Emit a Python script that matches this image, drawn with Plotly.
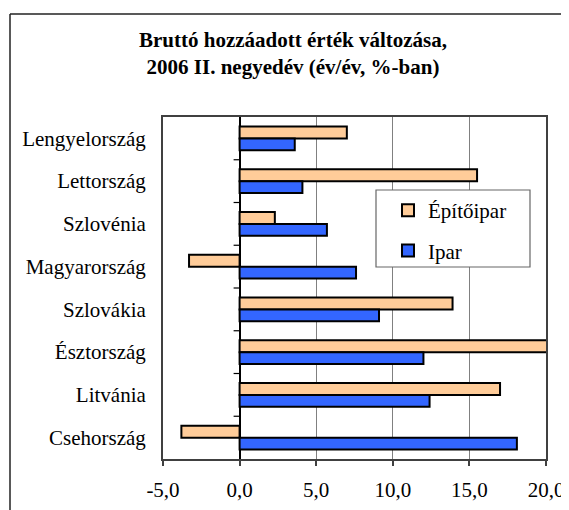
import plotly.graph_objects as go

countries = ["Lengyelország", "Lettország", "Szlovénia", "Magyarország",
             "Szlovákia", "Észtország", "Litvánia", "Csehország"]
epitoipar = [7.0, 15.5, 2.3, -3.3, 13.9, 21.0, 17.0, -3.8]
ipar = [3.6, 4.1, 5.7, 7.6, 9.1, 12.0, 12.4, 18.1]
series_names = ["Építőipar", "Ipar"]
x_ticks = [-5, 0, 5, 10, 15, 20]
x_tick_labels = ["-5,0", "0,0", "5,0", "10,0", "15,0", "20,0"]

FONT = "Liberation Serif"
OFF = 8  # page body margin offset
W, H = 569 - OFF, 510 - OFF
ML, MR, MT, MB = 163 - OFF, 23, 117 - OFF, 51
PW, PH = W - ML - MR, H - MT - MB

def px_x(p):  # reference page px -> paper
    return (p - OFF - ML) / PW

def px_y(p):
    return (H - MB - (p - OFF)) / PH

fig = go.Figure()
fig.add_trace(go.Bar(
    y=countries, x=epitoipar, orientation="h", name=series_names[0],
    marker=dict(color="#FFCC99", line=dict(color="black", width=2)),
    legendgroup="a",
))
fig.add_trace(go.Bar(
    y=countries, x=ipar, orientation="h", name=series_names[1],
    marker=dict(color="#3366FF", line=dict(color="black", width=2)),
    legendgroup="b",
))

shapes = []
for i in range(len(countries) - 1):
    shapes.append(dict(type="line", xref="x", yref="y", xsizemode="pixel",
                       xanchor=0, x0=-6, x1=0, y0=i + 0.5, y1=i + 0.5,
                       line=dict(color="black", width=1.2)))
shapes.append(dict(type="rect", xref="paper", yref="paper",
                   x0=px_x(376), x1=px_x(530), y0=px_y(267), y1=px_y(190),
                   line=dict(color="#666666", width=1.2), fillcolor="white",
                   layer="above"))
shapes.append(dict(type="line", xref="paper", yref="paper",
                   x0=px_x(10), x1=px_x(580), y0=px_y(14), y1=px_y(14),
                   line=dict(color="#222222", width=1.5)))
shapes.append(dict(type="line", xref="paper", yref="paper",
                   x0=px_x(10), x1=px_x(10), y0=px_y(14), y1=px_y(530),
                   line=dict(color="#222222", width=1.5)))

fig.update_layout(
    width=W, height=H,
    margin=dict(l=ML, r=MR, t=MT, b=MB, autoexpand=False),
    paper_bgcolor="white", plot_bgcolor="white",
    font=dict(family=FONT, size=21, color="black"),
    barmode="group", bargap=0.44, bargroupgap=0,
    title=dict(
        text="<b>Bruttó hozzáadott érték változása,<br>2006 II. negyedév (év/év, %-ban)</b>",
        font=dict(family=FONT, size=21, color="black"),
        x=(293 - OFF) / W, xanchor="center", xref="container",
        y=1 - 39 / H, yanchor="top", yref="container",
    ),
    legend=dict(
        x=px_x(388), y=px_y(190), xanchor="left", yanchor="top",
        bgcolor="rgba(0,0,0,0)", borderwidth=0,
        font=dict(family=FONT, size=21, color="black"),
        tracegroupgap=10, traceorder="grouped",
    ),
    shapes=shapes,
)
fig.update_xaxes(
    range=[-5, 20], tickvals=x_ticks, ticktext=x_tick_labels,
    showgrid=True, gridcolor="#808080", gridwidth=1,
    zeroline=True, zerolinecolor="black", zerolinewidth=1.5,
    showline=True, mirror=True, linecolor="#404040", linewidth=2,
    ticks="outside", ticklen=5, tickcolor="#404040", tickwidth=1.5,
    ticklabelstandoff=6,
    tickfont=dict(family=FONT, size=21, color="black"),
)
fig.update_yaxes(
    autorange="reversed", showgrid=False, zeroline=False,
    showline=True, mirror=True, linecolor="#404040", linewidth=2,
    ticks="", ticklabelstandoff=11,
    tickfont=dict(family=FONT, size=21, color="black"),
)

fig.write_html("out.html")
